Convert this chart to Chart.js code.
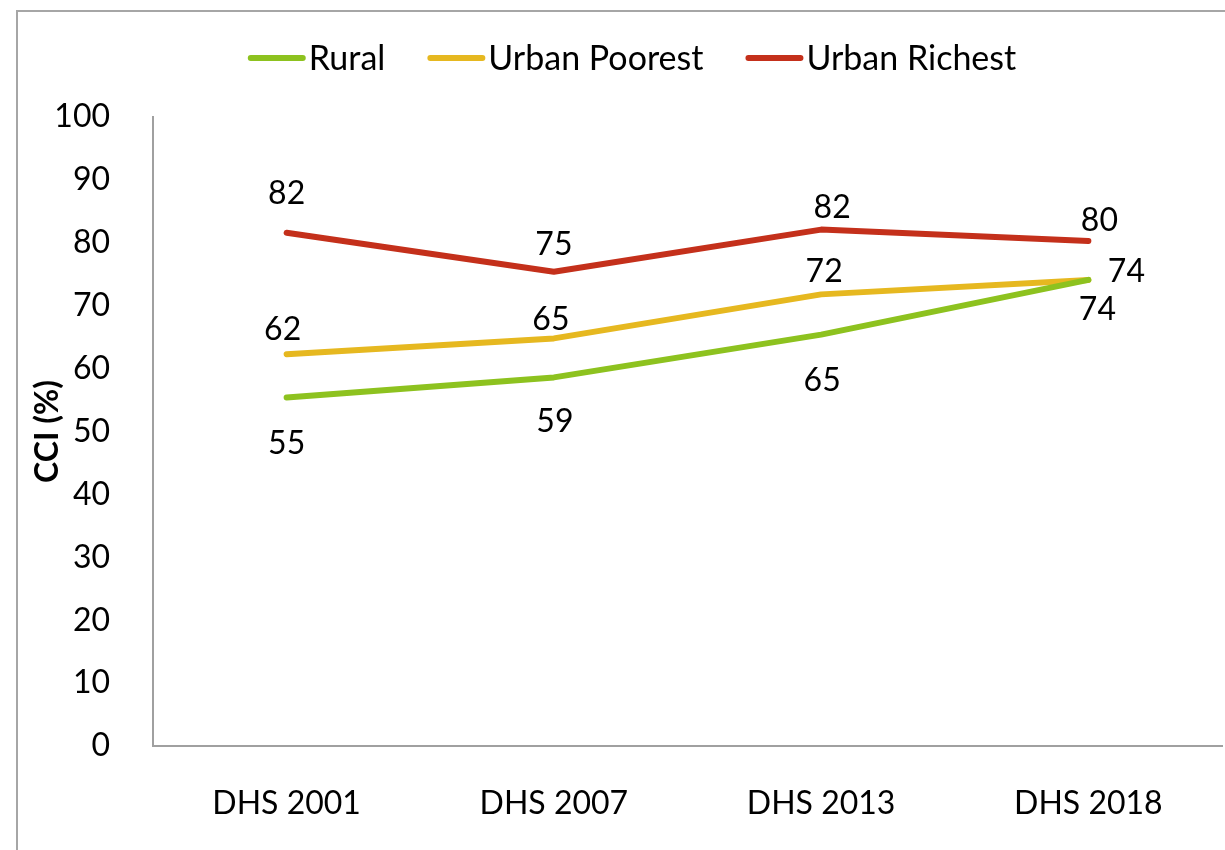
<!DOCTYPE html>
<html>
<head>
<meta charset="utf-8">
<script src="https://cdn.jsdelivr.net/npm/chart.js@4.4.1/dist/chart.umd.min.js"></script>
<style>
  html, body { margin: 0; padding: 0; background: #fff; }
  #wrap { position: relative; width: 1225px; height: 850px; overflow: hidden; }
  #frame { position: absolute; left: 16px; top: 10px; width: 1400px; height: 1000px; border: 2px solid #a6a6a6; }
  #chart { position: absolute; left: 0; top: 0; }
</style>
</head>
<body>
<div id="wrap">
  <div id="frame"></div>
  <canvas id="chart" width="1225" height="850"></canvas>
</div>
<script>
const surveys = ["DHS 2001", "DHS 2007", "DHS 2013", "DHS 2018"];
const rural = [55.4, 58.6, 65.4, 74.1];
const urbanPoorest = [62.3, 64.8, 71.8, 74.1];
const urbanRichest = [81.6, 75.4, 82.1, 80.3];

const FONT = "Lato";

// label nudges per point, [dx, dy] from the line vertex
const labelNudge = [
  [[0, 44], [1, 42], [1, 44], [9, 28]],
  [[-4, -26], [-3, -21], [3, -25], [38, -10]],
  [[0, -41], [0, -29], [11, -24], [11, -22]],
];

const valueLabels = {
  id: "valueLabels",
  afterDatasetsDraw(chart) {
    const ctx = chart.ctx;
    ctx.save();
    ctx.font = `32px ${FONT}`;
    ctx.fillStyle = "#000";
    ctx.textAlign = "center";
    ctx.textBaseline = "middle";
    chart.data.datasets.forEach((ds, i) => {
      const meta = chart.getDatasetMeta(i);
      meta.data.forEach((pt, j) => {
        const [dx, dy] = labelNudge[i][j];
        ctx.fillText(String(Math.round(ds.data[j])), pt.x + dx, pt.y + dy + 2);
      });
    });
    ctx.restore();
  },
};

const lineLegend = {
  id: "lineLegend",
  afterDraw(chart) {
    const ctx = chart.ctx;
    ctx.save();
    ctx.font = `34px ${FONT}`;
    ctx.textBaseline = "middle";
    ctx.textAlign = "left";
    const sample = 58, gapText = 3, gapItem = 42, y = 58;
    const items = chart.data.datasets.map((ds) => ({
      label: ds.label, color: ds.borderColor, w: ctx.measureText(ds.label).width,
    }));
    const total = items.reduce((s, it) => s + sample + gapText + it.w, 0) + gapItem * (items.length - 1);
    let x = 632 - total / 2;
    items.forEach((it) => {
      ctx.strokeStyle = it.color;
      ctx.lineWidth = 6;
      ctx.lineCap = "round";
      ctx.beginPath();
      ctx.moveTo(x + 3, y);
      ctx.lineTo(x + sample - 3, y);
      ctx.stroke();
      ctx.fillStyle = "#000";
      ctx.fillText(it.label, x + sample + gapText, y + 1);
      x += sample + gapText + it.w + gapItem;
    });
    ctx.restore();
  },
};

const lineStyle = {
  borderWidth: 6,
  pointRadius: 0,
  pointHoverRadius: 0,
  borderCapStyle: "round",
  borderJoinStyle: "round",
  tension: 0,
  fill: false,
};

new Chart(document.getElementById("chart"), {
  type: "line",
  data: {
    labels: surveys,
    datasets: [
      { label: "Rural", data: rural, borderColor: "#8dc21f", ...lineStyle },
      { label: "Urban Poorest", data: urbanPoorest, borderColor: "#e6b820", ...lineStyle },
      { label: "Urban Richest", data: urbanRichest, borderColor: "#c4301b", ...lineStyle },
    ],
  },
  options: {
    responsive: false,
    animation: false,
    layout: { padding: { left: 28, right: 3, top: 117, bottom: 0 } },
    plugins: {
      legend: { display: false },
      tooltip: { enabled: false },
    },
    scales: {
      x: {
        offset: true,
        grid: { display: false },
        border: { display: true, color: "#a0a0a0", width: 2 },
        ticks: { color: "#000", font: { family: FONT, size: 32 }, padding: 30, maxRotation: 0 },
        afterFit: (s) => { s.height = 104; },
      },
      y: {
        min: 0,
        max: 100,
        grid: { display: false },
        border: { display: true, color: "#a0a0a0", width: 2 },
        ticks: { stepSize: 10, color: "#000", font: { family: FONT, size: 32 }, padding: 35 },
        title: {
          display: true,
          text: "CCI (%)",
          color: "#000",
          font: { family: FONT, size: 32, weight: "bold", lineHeight: 1.2 },
          padding: 0,
        },
        afterFit: (s) => { s.width = 125; },
      },
    },
  },
  plugins: [valueLabels, lineLegend],
});
</script>
</body>
</html>
